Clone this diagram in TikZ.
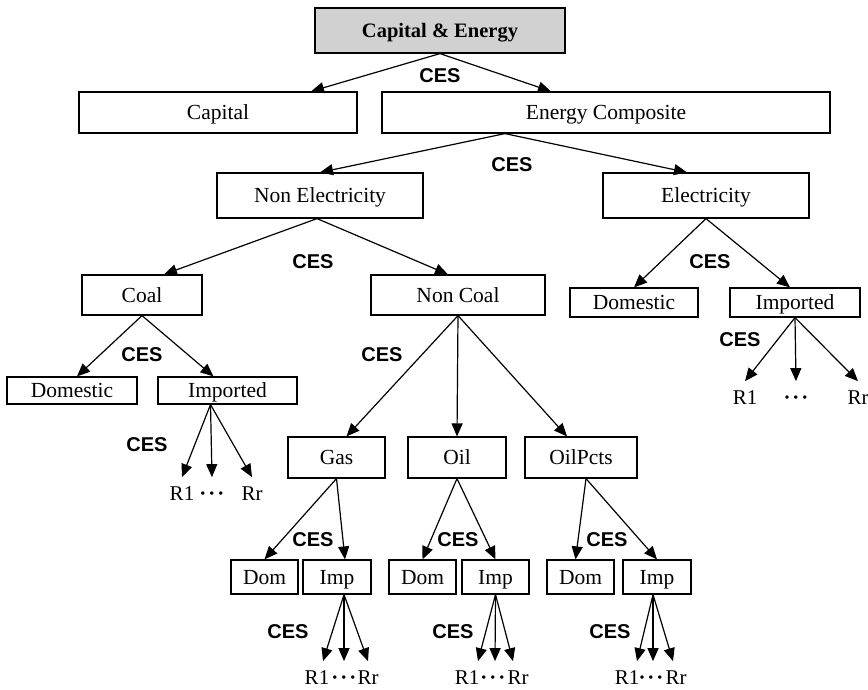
\documentclass[tikz,border=0pt]{standalone}
\usepackage{fontspec}
\setmainfont{Liberation Serif}
\setsansfont{Liberation Sans}
\usepackage{tikz}
\usetikzlibrary{calc}
\usetikzlibrary {arrows.meta}
\newcommand{\rdots}{\textbf{\textperiodcentered\kern2pt\textperiodcentered\kern2pt\textperiodcentered}}
\begin{document}
\begin{tikzpicture}[x=1pt,y=-1pt,line width=1.2pt,>={Triangle[length=13pt,width=11pt]}]
\tikzstyle{bx}=[draw,shape=rectangle,inner sep=0pt,text height=14.5pt,text depth=0.5pt,font=\fontsize{21.5}{24}\selectfont]
\tikzstyle{ces}=[font=\sffamily\bfseries\fontsize{20}{22}\selectfont]
\tikzstyle{rl}=[inner xsep=1pt,inner ysep=8pt,text height=14.5pt,text depth=0pt,font=\fontsize{21}{24}\selectfont]
\useasboundingbox (0,0) rectangle (868,690);
%
\node[bx,fill=black!18,minimum width=250pt,minimum height=45pt,font=\bfseries\fontsize{20.5}{24}\selectfont](ce) at (440,30.5){Capital \& Energy};
\node[bx,minimum width=278pt,minimum height=41pt](cap) at (218,112.5){Capital};
\node[bx,minimum width=448pt,minimum height=41pt](ecomp) at (606,112.5){Energy Composite};
\node[bx,minimum width=206pt,minimum height=45pt](nonel) at (320,195.5){Non Electricity};
\node[bx,minimum width=206pt,minimum height=45pt](elec) at (706,195.5){Electricity};
\node[bx,minimum width=120pt,minimum height=40pt](coal) at (142,295){Coal};
\node[bx,minimum width=174pt,minimum height=40pt](noncoal) at (458,295){Non Coal};
\node[bx,minimum width=128pt,minimum height=29pt](dome) at (634,302.5){Domestic};
\node[bx,minimum width=130pt,minimum height=29pt](impe) at (795,302.5){Imported};
\node[bx,minimum width=130pt,minimum height=27pt](domc) at (72,390.5){Domestic};
\node[bx,minimum width=139pt,minimum height=27pt](impc) at (227.5,390.5){Imported};
\node[bx,minimum width=97pt,minimum height=41pt](gas) at (336.5,457.5){Gas};
\node[bx,minimum width=98pt,minimum height=41pt](oil) at (457,457.5){Oil};
\node[bx,minimum width=112pt,minimum height=41pt](oilp) at (581,457.5){OilPcts};
\node[bx,minimum width=67pt,minimum height=34pt](gdom) at (264.5,577){Dom};
\node[bx,minimum width=68pt,minimum height=34pt](gimp) at (337,577){Imp};
\node[bx,minimum width=67pt,minimum height=34pt](odom) at (422.5,577){Dom};
\node[bx,minimum width=67pt,minimum height=34pt](oimp) at (495.5,577){Imp};
\node[bx,minimum width=67pt,minimum height=34pt](pdom) at (580.5,577){Dom};
\node[bx,minimum width=68pt,minimum height=34pt](pimp) at (657,577){Imp};
%
\node[rl](er1) at (745,397){R1};
\node[rl](edots) at (796,397){\rdots};
\node[rl](err) at (858,397){Rr};
\node[rl](cr1) at (182,493){R1};
\node[rl](cdots) at (212,493){\rdots};
\node[rl](crr) at (252,493){Rr};
\node[rl](gr1) at (317,677){R1};
\node[rl](gdots) at (344,677){\rdots};
\node[rl](grr) at (368,677){Rr};
\node[rl](or1) at (467,677){R1};
\node[rl](odots) at (493,677){\rdots};
\node[rl](orr) at (518,677){Rr};
\node[rl](pr1) at (627,677){R1};
\node[rl](pdots) at (651,677){\rdots};
\node[rl](prr) at (676,677){Rr};
%
\draw[->] (ce.south) -- ([xshift=93pt]cap.north);
\draw[->] (ce.south) -- ([xshift=-55pt]ecomp.north);
%
\draw[->] ([xshift=-101pt]ecomp.south) -- (nonel.north);
\draw[->] ([xshift=-101pt]ecomp.south) -- ([xshift=-19pt]elec.north);
%
\draw[->] ([xshift=-3pt]nonel.south) -- ([xshift=22pt]coal.north);
\draw[->] ([xshift=-3pt]nonel.south) -- ([xshift=-10pt]noncoal.north);
%
\draw[->] (elec.south) -- (dome.north);
\draw[->] (elec.south) -- ([xshift=-5pt]impe.north);
%
\draw[->] (impe.south) -- (er1.north);
\draw[->] (impe.south) -- (edots.north);
\draw[->] (impe.south) -- (err.north);
%
\draw[->] (coal.south) -- ([xshift=5pt]domc.north);
\draw[->] (coal.south) -- ([xshift=-14pt]impc.north);
%
\draw[->] ([xshift=-17pt]impc.south) -- (cr1.north);
\draw[->] ([xshift=-17pt]impc.south) -- (cdots.north);
\draw[->] ([xshift=-17pt]impc.south) -- (crr.north);
%
\draw[->] (noncoal.south) -- ([xshift=10pt]gas.north);
\draw[->] (noncoal.south) -- (oil.north);
\draw[->] (noncoal.south) -- ([xshift=-14pt]oilp.north);
%
\draw[->] (gas.south) -- (gdom.north);
\draw[->] (gas.south) -- ([xshift=8pt]gimp.north);
\draw[->] (oil.south) -- (odom.north);
\draw[->] (oil.south) -- (oimp.north);
\draw[->] ([xshift=5pt]oilp.south) -- ([xshift=-5pt]pdom.north);
\draw[->] ([xshift=5pt]oilp.south) -- (pimp.north);
%
\draw[->] ([xshift=7pt]gimp.south) -- ([xshift=6pt]gr1.north);
\draw[->] ([xshift=7pt]gimp.south) -- (gdots.north);
\draw[->] ([xshift=7pt]gimp.south) -- (grr.north);
\draw[->] (oimp.south) -- ([xshift=11pt]or1.north);
\draw[->] (oimp.south) -- ([xshift=2pt]odots.north);
\draw[->] (oimp.south) -- ([xshift=-5pt]orr.north);
\draw[->] ([xshift=-4pt]pimp.south) -- ([xshift=10pt]pr1.north);
\draw[->] ([xshift=-4pt]pimp.south) -- ([xshift=2pt]pdots.north);
\draw[->] ([xshift=-4pt]pimp.south) -- ([xshift=-3pt]prr.north);
%
\node[ces](c1) at (440,76){CES};
\node[ces](c2) at (512,165){CES};
\node[ces](c3) at (313,262){CES};
\node[ces](c4) at (710,262){CES};
\node[ces](c5) at (142,355){CES};
\node[ces](c6) at (382,355){CES};
\node[ces](c7) at (740,340){CES};
\node[ces](c8) at (147,445){CES};
\node[ces](c9) at (313,540){CES};
\node[ces](c10) at (458,540){CES};
\node[ces](c11) at (607,540){CES};
\node[ces](c12) at (288,632){CES};
\node[ces](c13) at (453,632){CES};
\node[ces](c14) at (610,632){CES};
\end{tikzpicture}
\end{document}
